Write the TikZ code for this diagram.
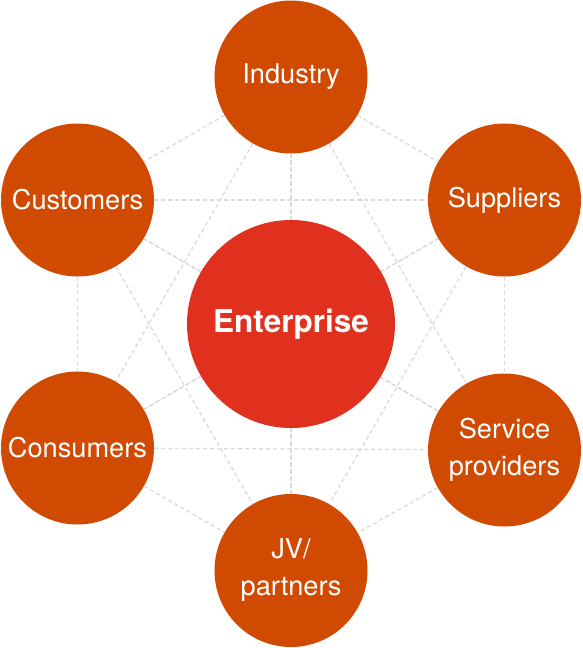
\documentclass[tikz,border=0pt]{standalone}
\usepackage{fontspec}
\setmainfont{TeX Gyre Heros}
\usetikzlibrary{backgrounds}

\definecolor{ringorange}{HTML}{D04A02}
\definecolor{corered}{HTML}{E0301E}
\definecolor{linkgray}{HTML}{DADADA}

\begin{document}
\begin{tikzpicture}[x=1pt, y=-1pt,
    party/.style={circle, fill=ringorange, minimum size=153pt, inner sep=0pt,
        text=white, align=center, font=\fontsize{27.2}{37}\selectfont},
    core/.style={circle, fill=corered, minimum size=208pt, inner sep=0pt,
        text=white, font=\fontsize{31.5}{36}\selectfont\bfseries},
    link/.style={draw=linkgray, line width=1.3pt, dash pattern=on 4pt off 3pt}]

    \useasboundingbox (0,0) rectangle (582,648);

    %--------------------%
    % Centre
    %--------------------%
    \node[core] (enterprise) at (291,324) {Enterprise};

    %--------------------%
    % Outer Ring
    %--------------------%
    \node[party] (industry) at (291,77) {Industry};
    \node[party] (customers) at (77.5,200) {Customers};
    \node[party] (suppliers) at (504.5,200) {Suppliers};
    \node[party] (consumers) at (77.5,448) {Consumers};
    \node[party] (service) at (504.5,450) {Service\\providers};
    \node[party] (jv) at (291,570.5) {JV/\\partners};

    %--------------------%
    % Links
    %--------------------%
    \begin{pgfonlayer}{background}
    % Centre to Ring
    \draw[link] (enterprise) -- (industry);
    \draw[link] (enterprise) -- (customers);
    \draw[link] (enterprise) -- (suppliers);
    \draw[link] (enterprise) -- (consumers);
    \draw[link] (enterprise) -- (service);
    \draw[link] (enterprise) -- (jv);

    % Ring Neighbours
    \draw[link] (industry) -- (customers);
    \draw[link] (industry) -- (suppliers);
    \draw[link] (customers) -- (consumers);
    \draw[link] (suppliers) -- (service);
    \draw[link] (consumers) -- (jv);
    \draw[link] (service) -- (jv);

    % Ring Across
    \draw[link] (industry) -- (consumers);
    \draw[link] (industry) -- (service);
    \draw[link] (industry) -- (jv);
    \draw[link] (customers) -- (suppliers);
    \draw[link] (customers) -- (service);
    \draw[link] (customers) -- (jv);
    \draw[link] (suppliers) -- (consumers);
    \draw[link] (suppliers) -- (jv);
    \draw[link] (consumers) -- (service);
    \end{pgfonlayer}
\end{tikzpicture}
\end{document}
